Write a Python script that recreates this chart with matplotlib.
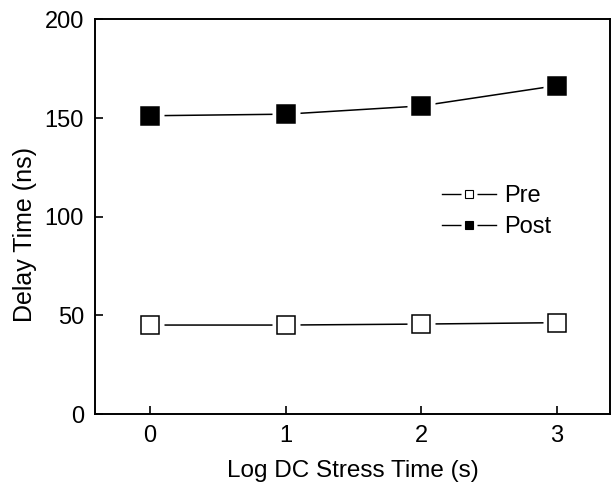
import matplotlib
matplotlib.use("Agg")
import matplotlib.pyplot as plt
from matplotlib.lines import Line2D
from matplotlib.legend_handler import HandlerTuple

plt.rcParams['font.family'] = ['Liberation Sans', 'DejaVu Sans']

log_time = [0, 1, 2, 3]
pre = [45.1, 45.1, 45.6, 46.3]
post = [151.2, 152.0, 156.2, 166.5]
series_names = ["Pre", "Post"]
y_ticks = [0, 50, 100, 150, 200]
x_ticks = [0, 1, 2, 3]

fig = plt.figure(figsize=(6.14, 4.92), dpi=100)
ax = fig.add_axes([0.1547, 0.1585, 0.8388, 0.8019])

for vals, face in [(pre, 'white'), (post, 'black')]:
    ax.plot(log_time, vals, color='black', lw=1.1, zorder=2)
    ax.plot(log_time, vals, ls='none', marker='s', ms=20, mfc='white', mec='none', zorder=3)
    ax.plot(log_time, vals, ls='none', marker='s', ms=12.3, mfc=face, mec='black', mew=1.1, zorder=4)

ax.set_xlim(-0.405, 3.39)
ax.set_ylim(0, 200)
ax.set_xticks(x_ticks)
ax.set_yticks(y_ticks)
ax.tick_params(direction='in', length=6, width=1.2, labelsize=17, pad=8)
for s in ax.spines.values():
    s.set_linewidth(1.4)

ax.set_xlabel("Log DC Stress Time (s)", fontsize=17.5, labelpad=9)
ax.set_ylabel("Delay Time (ns)", fontsize=18)
ax.yaxis.set_label_coords(-0.113, 0.454)

handles = []
for face in ['white', 'black']:
    ln = Line2D([], [], color='black', lw=1.0)
    bg = Line2D([], [], ls='none', marker='s', ms=11, mfc='white', mec='none')
    mk = Line2D([], [], ls='none', marker='s', ms=5.5, mfc=face, mec='black', mew=0.8)
    handles.append((ln, bg, mk))
ax.legend(handles, series_names, handler_map={tuple: HandlerTuple(ndivide=1, pad=0)},
          loc='upper left', bbox_to_anchor=(0.655, 0.605), frameon=False, fontsize=17,
          handlelength=2.3, handletextpad=0.35, labelspacing=0.4, borderaxespad=0)

fig.savefig("out.png", dpi=100)
